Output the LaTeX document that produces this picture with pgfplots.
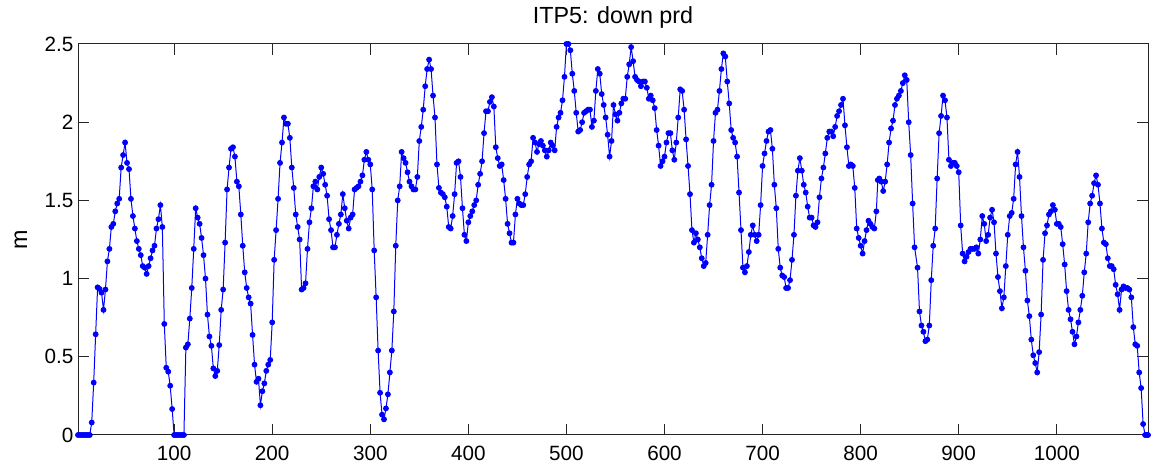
\documentclass[border=0pt]{standalone}
\usepackage{fontspec}
\setmainfont{Liberation Sans}
\usepackage{pgfplots}
\pgfplotsset{compat=1.18}
\pgfplotstableread{
x y
2 0
4 0
6 0
8 0
10 0
12 0
14 0
16 0.08
18 0.335
20 0.644
22 0.944
24 0.934
26 0.91
28 0.80
30 0.93
32 1.11
34 1.19
36 1.33
38 1.35
40 1.43
42 1.48
44 1.51
46 1.71
48 1.79
50 1.87
52 1.74
54 1.70
56 1.51
58 1.40
60 1.32
62 1.24
64 1.19
66 1.15
68 1.08
70 1.07
72 1.03
74 1.08
76 1.13
78 1.18
80 1.21
82 1.32
84 1.38
86 1.47
88 1.33
90 0.71
92 0.43
94 0.405
96 0.315
98 0.166
100 0
102 0
104 0
106 0
108 0
110 0
112 0.559
114 0.58
116 0.744
118 0.94
120 1.19
122 1.45
124 1.39
126 1.35
128 1.26
130 1.15
132 1.0
134 0.77
136 0.63
138 0.57
140 0.426
142 0.377
144 0.41
146 0.575
148 0.80
150 0.93
152 1.23
154 1.57
156 1.71
158 1.83
160 1.84
162 1.78
164 1.62
166 1.59
168 1.41
170 1.21
172 1.04
174 0.94
176 0.88
178 0.84
180 0.64
182 0.45
184 0.34
186 0.36
188 0.19
190 0.28
192 0.33
194 0.41
196 0.45
198 0.48
200 0.72
202 1.12
204 1.31
206 1.51
208 1.74
210 1.87
212 2.03
214 1.99
216 1.99
218 1.90
220 1.71
222 1.58
224 1.41
226 1.33
228 1.25
230 0.93
232 0.94
234 0.97
236 1.19
238 1.36
240 1.45
242 1.59
244 1.62
246 1.57
248 1.65
250 1.71
252 1.67
254 1.60
256 1.53
258 1.38
260 1.31
262 1.20
264 1.20
266 1.28
268 1.35
270 1.41
272 1.54
274 1.45
276 1.37
278 1.32
280 1.39
282 1.41
284 1.57
286 1.58
288 1.59
290 1.62
292 1.66
294 1.76
296 1.81
298 1.76
300 1.73
302 1.57
304 1.18
306 0.88
308 0.54
310 0.27
312 0.13
314 0.10
316 0.17
318 0.26
320 0.40
322 0.54
324 0.79
326 1.21
328 1.50
330 1.59
332 1.81
334 1.77
336 1.74
338 1.68
340 1.62
342 1.59
344 1.57
346 1.57
348 1.65
350 1.88
352 1.97
354 2.08
356 2.23
358 2.34
360 2.40
362 2.34
364 2.17
366 2.03
368 1.73
370 1.58
372 1.55
374 1.54
376 1.52
378 1.46
380 1.33
382 1.32
384 1.40
386 1.54
388 1.74
390 1.75
392 1.65
394 1.45
396 1.28
398 1.24
400 1.36
402 1.40
404 1.43
406 1.47
408 1.50
410 1.60
412 1.67
414 1.75
416 1.93
418 2.07
420 2.07
422 2.13
424 2.16
426 2.10
428 1.84
430 1.77
432 1.72
434 1.73
436 1.63
438 1.51
440 1.35
442 1.29
444 1.23
446 1.23
448 1.41
450 1.51
452 1.48
454 1.47
456 1.47
458 1.54
460 1.65
462 1.73
464 1.75
466 1.90
468 1.87
470 1.81
472 1.86
474 1.88
476 1.85
478 1.82
480 1.78
482 1.82
484 1.87
486 1.85
488 1.82
490 1.97
492 2.03
494 2.06
496 2.14
498 2.29
500 2.50
502 2.50
504 2.46
506 2.31
508 2.20
510 2.06
512 1.94
514 1.95
516 2.00
518 2.06
520 2.07
522 2.08
524 2.08
526 1.97
528 2.01
530 2.20
532 2.34
534 2.31
536 2.18
538 2.11
540 2.03
542 1.92
544 1.78
546 1.88
548 2.11
550 2.05
552 2.01
554 2.06
556 2.12
558 2.15
560 2.15
562 2.29
564 2.37
566 2.48
568 2.39
570 2.29
572 2.27
574 2.26
576 2.23
578 2.26
580 2.26
582 2.22
584 2.15
586 2.17
588 2.14
590 2.09
592 1.95
594 1.85
596 1.72
598 1.75
600 1.78
602 1.87
604 1.93
606 1.93
608 1.82
610 1.76
612 1.87
614 2.03
616 2.21
618 2.20
620 2.08
622 1.89
624 1.72
626 1.54
628 1.31
630 1.23
632 1.29
634 1.25
636 1.20
638 1.13
640 1.08
642 1.10
644 1.28
646 1.47
648 1.60
650 1.88
652 2.06
654 2.08
656 2.20
658 2.34
660 2.44
662 2.42
664 2.26
666 2.12
668 1.95
670 1.90
672 1.87
674 1.78
676 1.55
678 1.31
680 1.07
682 1.04
684 1.08
686 1.17
688 1.28
690 1.34
692 1.28
694 1.24
696 1.28
698 1.47
700 1.72
702 1.80
704 1.88
706 1.94
708 1.95
710 1.83
712 1.60
714 1.45
716 1.19
718 1.07
720 1.02
722 1.01
724 0.94
726 0.94
728 0.99
730 1.12
732 1.28
734 1.53
736 1.69
738 1.77
740 1.69
742 1.60
744 1.55
746 1.46
748 1.39
750 1.39
752 1.34
754 1.33
756 1.36
758 1.52
760 1.64
762 1.71
764 1.80
766 1.90
768 1.94
770 1.94
772 1.91
774 1.97
776 2.04
778 2.07
780 2.11
782 2.15
784 1.98
786 1.84
788 1.72
790 1.73
792 1.72
794 1.58
796 1.32
798 1.26
800 1.21
802 1.16
804 1.24
806 1.31
808 1.37
810 1.35
812 1.33
814 1.32
816 1.43
817.5 1.63
819 1.64
821 1.62
823 1.56
825 1.62
827 1.73
829 1.87
831 1.96
833 2.01
835 2.11
837 2.15
839 2.17
841 2.20
843 2.25
845 2.30
847 2.27
849 2.00
851 1.79
853 1.48
855 1.20
858 1.07
860 0.79
862 0.70
864 0.66
866 0.60
868 0.61
870 0.70
872 0.99
874 1.21
876 1.32
878 1.64
880 1.93
882 2.04
884 2.17
886 2.14
888 2.03
890 1.76
892 1.72
894 1.74
896 1.74
898 1.72
900 1.68
902 1.34
904 1.16
906 1.11
908 1.14
910 1.17
912 1.19
914 1.19
916 1.19
918 1.20
920 1.16
922 1.25
924 1.40
926 1.35
928 1.24
930 1.28
932 1.39
934 1.44
936 1.36
938 1.16
940 1.01
942 0.92
944 0.81
946 0.88
948 1.08
950 1.28
952 1.40
954 1.42
956 1.51
958 1.73
960 1.81
962 1.65
964 1.40
966 1.20
968 1.05
970 0.86
972 0.76
974 0.61
976 0.51
978 0.46
980 0.40
982 0.53
984 0.77
986 1.12
988 1.29
990 1.34
992 1.41
994 1.43
996 1.47
998 1.44
1000 1.35
1002 1.35
1004 1.33
1006 1.22
1008 1.09
1010 0.92
1012 0.80
1014 0.74
1016 0.66
1018 0.58
1020 0.63
1022 0.72
1024 0.80
1026 0.89
1028 1.04
1030 1.16
1032 1.36
1034 1.48
1036 1.53
1038 1.61
1040 1.66
1042 1.60
1044 1.48
1046 1.32
1048 1.23
1050 1.22
1052 1.13
1054 1.08
1056 1.08
1058 1.06
1060 0.96
1062 0.90
1064 0.80
1066 0.93
1068 0.95
1070 0.94
1072 0.94
1074 0.93
1076 0.88
1078 0.69
1080 0.58
1082 0.57
1084 0.40
1086 0.30
1088 0.07
1090 0
1092 0
1093 0
}\datatable
\begin{document}
\begin{tikzpicture}
\begin{axis}[
  at={(58.5pt,21pt)}, anchor=south west,
  scale only axis, width=802.5pt, height=293.25pt,
  xmin=2, xmax=1093, ymin=0, ymax=2.5,
  xtick={100,200,300,400,500,600,700,800,900,1000},
  ytick={0,0.5,1,1.5,2,2.5},
  tick align=inside, xtick pos=both, ytick pos=both,
  major tick length=8pt,
  axis line style={black!85, line width=0.75pt},
  every tick/.style={black!85, line width=0.75pt},
  tick label style={font=\fontsize{15.5}{18}\selectfont},
  xticklabel style={yshift=-5pt},
  /pgf/number format/assume math mode=true,
  /pgf/number format/1000 sep={},
  title={ITP5: down prd},
  title style={font=\fontsize{17.5}{21}\selectfont, yshift=2pt},
  ylabel={m},
  ylabel style={font=\fontsize{17.5}{21}\selectfont, at={(axis description cs:-0.0533,0.5)}, anchor=center},
  clip=false,
]
\addplot[blue, line width=0.75pt, mark=*, mark size=1.8pt, mark options={fill=blue, draw=blue}] table[x=x, y=y] {\datatable};
\end{axis}
\pgfresetboundingbox
\path (0,0) rectangle (863.25pt,347.25pt);
\end{tikzpicture}
\end{document}
